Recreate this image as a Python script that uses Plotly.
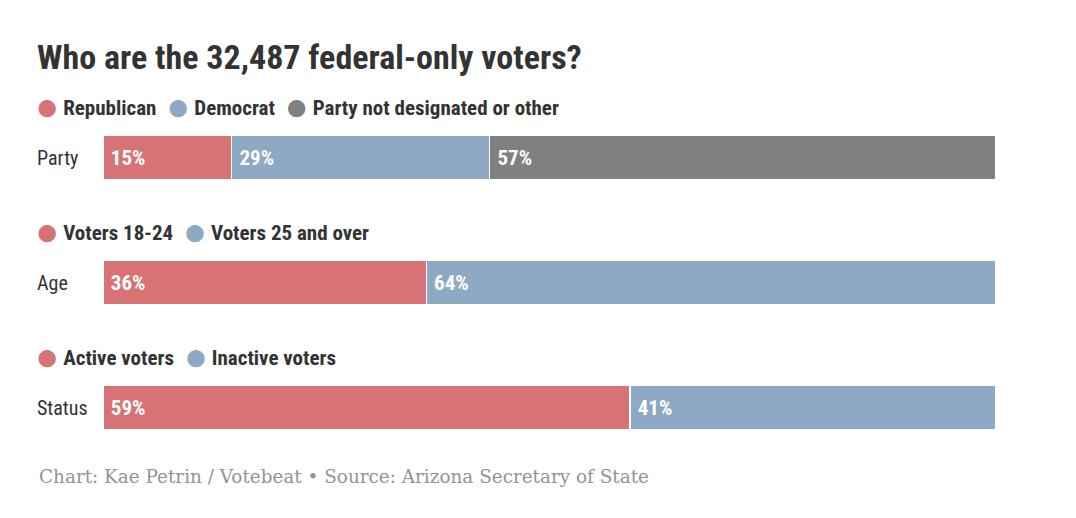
import plotly.graph_objects as go

# rows of the chart, top to bottom
categories = ["Party", "Age", "Status"]
row_pos = [0, 1, 2]

# first segment (red), second (blue), third (grey, party only)
red_values = [14.4, 36.2, 59.0]
red_labels = ["15%", "36%", "59%"]
blue_values = [28.9, 63.8, 41.0]
blue_labels = ["29%", "64%", "41%"]
grey_values = [56.7]
grey_labels = ["57%"]

legend_rows = [
    ["Republican", "Democrat", "Party not designated or other"],
    ["Voters 18-24", "Voters 25 and over"],
    ["Active voters", "Inactive voters"],
]

title = "Who are the 32,487 federal-only voters?"
source = "Chart: Kae Petrin / Votebeat \u2022 Source: Arizona Secretary of State"

RED = "#d77374"
BLUE = "#8ea9c4"
GREY = "#808080"
colors = [RED, BLUE, GREY]
COND = "Liberation Sans Narrow, Roboto Condensed, Roboto, sans-serif"
INK = "#333333"
LEFT = (35 - 103) / 893  # paper x of the left text column

fig = go.Figure()


def add_seg(vals, labels, ys, color):
    fig.add_trace(go.Bar(
        x=vals, y=ys, orientation="h", width=0.352,
        marker=dict(color=color, line=dict(color="white", width=1.5)),
        text=labels, texttemplate="\u00a0%{text}",
        textposition="inside", insidetextanchor="start",
        textfont=dict(family=COND, size=21, color="white", weight="bold"),
        hoverinfo="skip", showlegend=False,
    ))


add_seg(red_values, red_labels, row_pos, RED)
add_seg(blue_values, blue_labels, row_pos, BLUE)
add_seg(grey_values, grey_labels, row_pos[:1], GREY)

# row labels on the left
for y, cat in zip(row_pos, categories):
    fig.add_annotation(x=LEFT, xref="paper", y=y, yref="y", text=cat,
                       showarrow=False, xanchor="left", yanchor="middle",
                       font=dict(family=COND, size=20, color=INK))

# legends above each bar
for y, names in zip(row_pos, legend_rows):
    parts = []
    for name, c in zip(names, colors):
        parts.append("<span style='color:%s;font-size:40px;baseline-shift:-5px'>\u25cf</span>\u2009<b>%s</b>" % (c, name))
    fig.add_annotation(x=LEFT - 0.002, xref="paper", y=y - 0.405, yref="y",
                       text="  ".join(parts), showarrow=False,
                       xanchor="left", yanchor="middle",
                       font=dict(family=COND, size=21, color=INK))

fig.add_annotation(x=LEFT + 0.002, xref="paper", y=-0.017, yref="paper",
                   text=source, showarrow=False, xanchor="left", yanchor="middle",
                   font=dict(family="DejaVu Serif, Liberation Serif, serif", size=18.4, color="#939393"))

fig.update_layout(
    barmode="stack",
    width=1076, height=518,
    margin=dict(l=95, r=88, t=87, b=56),
    paper_bgcolor="white", plot_bgcolor="white",
    title=dict(text="<b>%s</b>" % title, x=29 / 1076, xref="container", xanchor="left",
               y=1 - 49 / 518, yref="container", yanchor="middle",
               font=dict(family=COND, size=34, color=INK)),
    xaxis=dict(range=[0, 100], visible=False, fixedrange=True),
    yaxis=dict(range=[2.5, -0.5], visible=False, fixedrange=True),
    uniformtext=dict(mode="show", minsize=10),
)

fig.write_html("out.html")
